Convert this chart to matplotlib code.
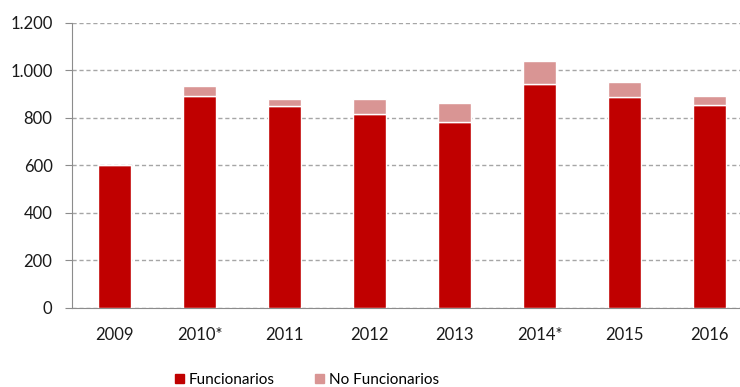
import matplotlib.pyplot as plt
from matplotlib.patches import Patch
from matplotlib.ticker import FuncFormatter

plt.rcParams['font.family'] = ['Lato', 'DejaVu Sans']

# Datos
years = ['2009', '2010*', '2011', '2012', '2013', '2014*', '2015', '2016']
funcionarios = [600, 890, 850, 814, 781, 942, 888, 852]
no_funcionarios = [0, 43, 30, 66, 82, 95, 62, 38]

red = '#C00000'
pink = '#D99594'

fig = plt.figure(figsize=(7.4, 3.87), dpi=100)
ax = fig.add_axes([72 / 740, 1 - 307.7 / 387, 680 / 740, 285 / 387])

x = range(len(years))
ax.bar(x, funcionarios, width=0.39, color=red, edgecolor='white', linewidth=1, zorder=3)
ax.bar(x, no_funcionarios, width=0.39, bottom=funcionarios, color=pink,
       edgecolor='white', linewidth=1, zorder=3)

ax.set_xlim(-0.5, len(years) - 0.5)
ax.set_ylim(0, 1200)
ax.set_yticks(range(0, 1201, 200))
ax.yaxis.set_major_formatter(FuncFormatter(lambda v, p: f'{int(v):,}'.replace(',', '.')))
ax.set_xticks(list(x))
ax.set_xticklabels(years)

ax.grid(axis='y', linestyle=(0, (3, 2)), color='#A6A6A6', linewidth=1, zorder=0)
for s in ['top', 'right']:
    ax.spines[s].set_visible(False)
for s in ['left', 'bottom']:
    ax.spines[s].set_color('#8C8C8C')
ax.tick_params(axis='y', length=5, color='#8C8C8C', pad=9, labelsize=12, labelcolor='#1A1A1A')
ax.tick_params(axis='x', length=0, pad=14, labelsize=12, labelcolor='#1A1A1A')

handles = [Patch(color=red, label='Funcionarios'), Patch(color=pink, label='No Funcionarios')]
fig.legend(handles=handles, loc='center', bbox_to_anchor=(307 / 740, 1 - 380 / 387), ncol=2,
           frameon=False, fontsize=11, handlelength=0.6, handleheight=0.6,
           handletextpad=0.3, columnspacing=2.6)

fig.savefig('out.png', dpi=100)
